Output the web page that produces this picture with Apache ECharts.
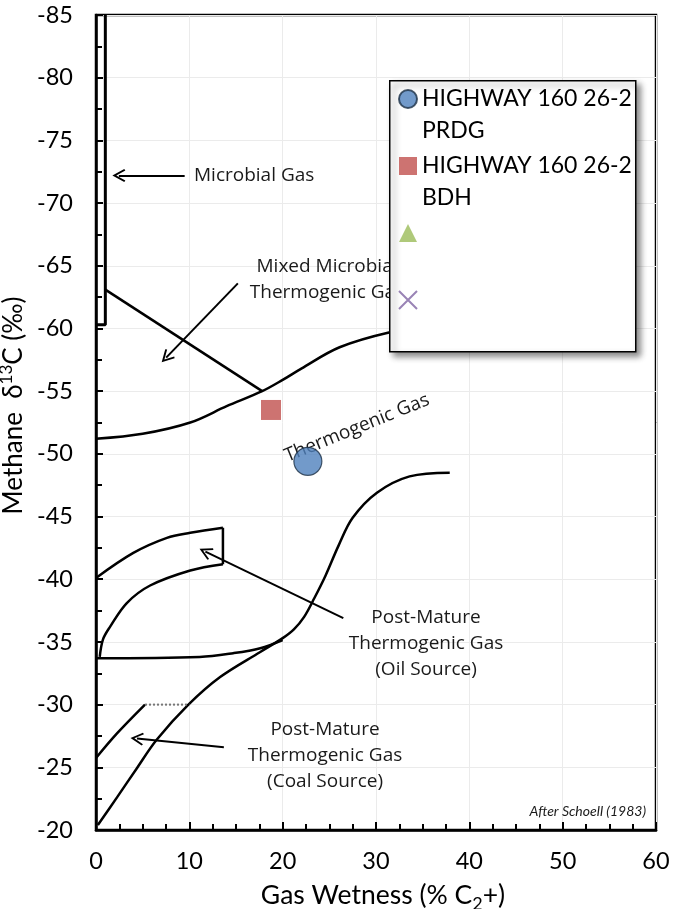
<!DOCTYPE html>
<html><head><meta charset="utf-8">
<script src="https://cdn.jsdelivr.net/npm/echarts@6/dist/echarts.min.js"></script>
<style>html,body{margin:0;padding:0;background:#fff;}#c{width:673px;height:909px;}</style>
</head><body><div id="c"></div>
<script>
// ---------- data ----------
const xRange = [0, 60];
const yRange = [-85, -20];

// sample points
const seriesNames = ['HIGHWAY 160 26-2 PRDG', 'HIGHWAY 160 26-2 BDH', 'Series 3', 'Series 4'];
const legendLines = [['HIGHWAY 160 26-2', 'PRDG'], ['HIGHWAY 160 26-2', 'BDH'], [' ', ' '], [' ', ' ']];
const prdgPoints = [[22.7, -49.4]];
const bdhPoints = [[18.75, -53.5]];
const series3Points = [];
const series4Points = [];

// field boundaries (after Schoell 1983)
const microbialBox = [[0, -60.3], [1, -60.3], [1, -85]];
const mixedLine = [[1, -63.1], [17.8, -55.0]];
const thermoUpper = [[0, -51.2], [5, -51.6], [10.1, -52.5], [14, -53.8], [17.8, -55.0], [20, -55.9], [22, -56.8], [26.1, -58.5], [31.5, -59.7], [36, -60.2]];
const oilTop = [[0, -40.1], [4, -42.1], [7.6, -43.3], [10.1, -43.7], [13.6, -44.1]];
const oilCap = [[13.6, -44.1], [13.6, -41.2]];
const oilLower = [[13.6, -41.2], [10.1, -40.7], [5.8, -39.5], [3.3, -38.1], [1.5, -36.2], [0.75, -35.2], [0.4, -33.8]];
const oilBase = [[0, -33.7], [11.1, -33.8], [14.7, -34.1], [17.6, -34.5], [20, -35.15]];
const coalOilCurve = [[0.2, -20.4], [2.25, -22.6], [4.4, -24.95], [6.5, -27.2], [9.9, -30.0], [13.3, -32.2], [17.6, -34.2], [20, -35.3], [21.2, -36.0], [22.3, -37.0], [23.4, -38.5], [24.6, -40.3], [26, -42.7], [27.5, -44.9], [30.1, -46.9], [33.6, -48.2], [37.9, -48.5]];
const coalTop = [[0, -25.74], [2.25, -27.7], [5.25, -30]];
const coalCap = [[5.25, -30], [10, -30]];

// arrows [from, to]
const arrows = [
  [[9.5, -72.2], [2.45, -72.2]],
  [[15.2, -63.6], [7.52, -57.67]],
  [[26.5, -36.9], [11.72, -42.2]],
  [[13.7, -26.6], [4.39, -27.29]]
];

// annotation texts
const annotationTexts = ['Microbial Gas', 'Mixed Microbial\nThermogenic Gas', 'Thermogenic Gas', 'Post-Mature\nThermogenic Gas\n(Oil Source)', 'Post-Mature\nThermogenic Gas\n(Coal Source)', 'After Schoell (1983)'];
const annotationPos = [[10.5, -72.16], [24.75, -63.86], [27.96, -52.06], [35.36, -34.83], [24.54, -25.9], [58.93, -21.5]];

// ---------- chart ----------
const chart = echarts.init(document.getElementById('c'), null, {renderer: 'canvas'});
const AX_FONT = 'Lato, "Open Sans", sans-serif';
const ANN_FONT = '"Open Sans", sans-serif';

function boundary(name, data, smooth, extra) {
  return Object.assign({
    type: 'line', name: name, data: data, symbol: 'none', silent: true,
    smooth: smooth ? 0.35 : false,
    lineStyle: {color: '#000', width: 2.5}, z: 3
  }, extra || {});
}

const arrowPath = 'path://M10,0 L20,17 L17.6,18.6 L10,5.6 L2.4,18.6 L0,17 Z';

const annBase = {show: true, position: [0, 0], fontFamily: ANN_FONT, fontSize: 19, color: '#1a1a1a', opacity: 1, textBorderWidth: 0, lineHeight: 26};
const annStyles = [
  {align: 'left', verticalAlign: 'middle'},
  {align: 'center', verticalAlign: 'middle'},
  {align: 'center', verticalAlign: 'middle', rotate: 22},
  {align: 'center', verticalAlign: 'middle'},
  {align: 'center', verticalAlign: 'middle'},
  {align: 'right', verticalAlign: 'middle', fontStyle: 'italic', fontFamily: AX_FONT, fontSize: 14, color: '#1a1a1a'}
];

const annData = annotationTexts.map((t, i) => ({
  value: annotationPos[i],
  label: Object.assign({}, annBase, {formatter: t}, annStyles[i])
}));

const option = {
  animation: false,
  backgroundColor: '#fff',
  grid: {left: 96, right: 17, top: 15, bottom: 79, show: true, borderColor: '#000', borderWidth: 2.5, backgroundColor: 'transparent', outerBoundsMode: 'none', containLabel: false},
  xAxis: {
    type: 'value', min: xRange[0], max: xRange[1], interval: 10,
    name: '{a|Gas Wetness (% C}{b|2}{a|+)}', nameLocation: 'middle', nameGap: 47,
    nameTextStyle: {padding: [0, 0, 0, 14], rich: {
      a: {fontFamily: AX_FONT, fontSize: 26.5, color: '#000', lineHeight: 36},
      b: {fontFamily: AX_FONT, fontSize: 18, color: '#000', lineHeight: 18, verticalAlign: 'bottom'}
    }},
    axisLine: {show: true, lineStyle: {color: '#000', width: 2.5}},
    axisTick: {show: true, inside: true, length: 8, lineStyle: {color: '#000', width: 2}},
    minorTick: {show: true, splitNumber: 4, length: 6, lineStyle: {color: '#000', width: 2}},
    splitLine: {show: true, lineStyle: {color: '#ebebeb', width: 1}},
    axisLabel: {fontFamily: AX_FONT, fontSize: 23.5, color: '#000', margin: 19}
  },
  yAxis: {
    type: 'value', min: yRange[0], max: yRange[1], interval: 5, inverse: true,
    name: '{a|Methane  δ}{s|13}{a|C (‰)}', nameLocation: 'middle', nameRotate: 90, nameGap: 61,
    nameTextStyle: {padding: [0, 0, 0, 34], rich: {
      a: {fontFamily: AX_FONT, fontSize: 26, color: '#000', lineHeight: 30},
      s: {fontFamily: AX_FONT, fontSize: 17, color: '#000', verticalAlign: 'top'}
    }},
    axisLine: {show: true, lineStyle: {color: '#000', width: 2.5}},
    axisTick: {show: true, inside: true, length: 7, lineStyle: {color: '#000', width: 2}},
    minorTick: {show: true, splitNumber: 2, length: 6, lineStyle: {color: '#000', width: 2}},
    splitLine: {show: true, lineStyle: {color: '#ebebeb', width: 1}},
    axisLabel: {fontFamily: AX_FONT, fontSize: 23.5, color: '#000', margin: 23}
  },
  legend: {
    show: true, orient: 'vertical', left: 398, top: 51, padding: 0, itemGap: -29,
    itemWidth: 18, itemHeight: 18, selectedMode: false, z: 120,
    data: seriesNames,
    formatter: function (name) { const l = legendLines[seriesNames.indexOf(name)]; return '\n' + l.join('\n'); },
    textStyle: {fontFamily: AX_FONT, fontSize: 23, color: '#000', lineHeight: 32}
  },
  graphic: [{
    type: 'rect', left: 389, top: 80, z: 100,
    shape: {width: 246, height: 271},
    style: {fill: '#fff', stroke: '#000', lineWidth: 1.5, shadowBlur: 6, shadowOffsetX: 4, shadowOffsetY: 4, shadowColor: 'rgba(0,0,0,0.45)'}
  }],
  series: [
    boundary('microbialBox', microbialBox, false, {lineStyle: {color: '#000', width: 3}}),
    boundary('mixedLine', mixedLine, false),
    boundary('thermoUpper', thermoUpper, true),
    boundary('oilTop', oilTop, true),
    boundary('oilCap', oilCap, false),
    boundary('oilLower', oilLower, true),
    boundary('oilBase', oilBase, true),
    boundary('coalOilCurve', coalOilCurve, true),
    boundary('coalTop', coalTop, true),
    boundary('coalCap', coalCap, false, {lineStyle: {color: '#777', width: 2, type: 'dotted'}}),
    {
      type: 'line', name: 'arrows', data: [], silent: true,
      markLine: {
        silent: true, animation: false,
        symbol: ['none', arrowPath], symbolSize: [13, 13],
        lineStyle: {color: '#000', width: 2, type: 'solid'},
        label: {show: false},
        emphasis: {disabled: true},
        data: arrows.map(a => [{coord: a[0]}, {coord: a[1]}])
      }
    },
    {
      type: 'scatter', name: 'annotations', data: annData, symbol: 'circle', symbolSize: 0, silent: true, z: 4,
      itemStyle: {color: '#000'},
      emphasis: {disabled: true}
    },
    {
      type: 'scatter', name: seriesNames[0], data: prdgPoints, symbol: 'circle', symbolSize: 28, z: 5,
      itemStyle: {color: '#4F81BD', borderColor: '#1c2f45', borderWidth: 1.2}
    },
    {
      type: 'scatter', name: seriesNames[1], data: bdhPoints, symbol: 'rect', symbolSize: 20, z: 5,
      itemStyle: {color: '#C0504D'}
    },
    {
      type: 'scatter', name: seriesNames[2], data: series3Points, symbol: 'triangle', symbolSize: 18,
      itemStyle: {color: '#9BBB59'}
    },
    {
      type: 'scatter', name: seriesNames[3], data: series4Points, symbol: 'path://M0,0L10,10M10,0L0,10', symbolSize: 16,
      itemStyle: {color: 'rgba(0,0,0,0)', borderColor: '#8064A2', borderWidth: 1.5}
    }
  ]
};
chart.setOption(option);
</script>
</body></html>
